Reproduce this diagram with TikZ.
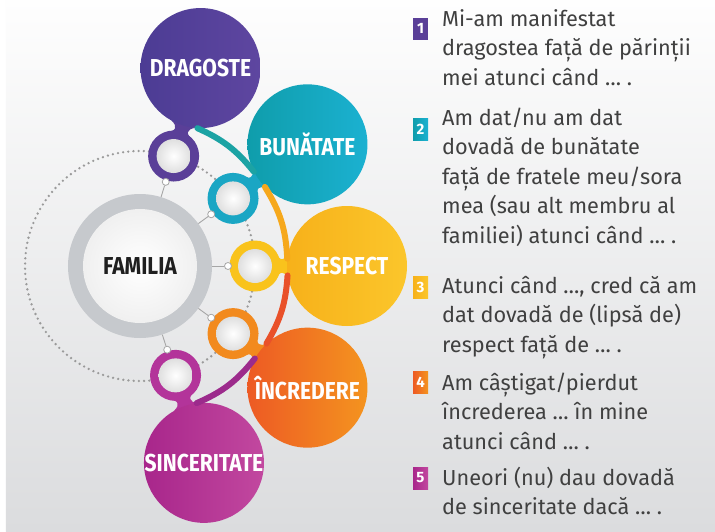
\documentclass[tikz,border=0pt]{standalone}
\usepackage{fontspec}
\setmainfont{Fira Sans}
\newfontfamily\lblfont{Fira Sans}[FakeStretch=0.86]
\usepackage{tikz}
\usetikzlibrary{calc}

\definecolor{bggray}{HTML}{DBDCDE}
\definecolor{txtgray}{HTML}{404040}
\definecolor{dragL}{HTML}{4C3C94}
\definecolor{dragR}{HTML}{5E46A0}
\definecolor{dragRing}{HTML}{5A3F98}
\definecolor{bunL}{HTML}{0F9DAB}
\definecolor{bunR}{HTML}{1BB1D1}
\definecolor{bunRing}{HTML}{1AA6C4}
\definecolor{respL}{HTML}{F7B11A}
\definecolor{respR}{HTML}{FBC62B}
\definecolor{respRing}{HTML}{F9C31C}
\definecolor{incrL}{HTML}{ED5A24}
\definecolor{incrR}{HTML}{F4941F}
\definecolor{incrRing}{HTML}{F28A1E}
\definecolor{sincL}{HTML}{A8268B}
\definecolor{sincR}{HTML}{C2489F}
\definecolor{sincRing}{HTML}{B3349A}
\definecolor{bunArc}{HTML}{1CA3A4}
\definecolor{respArc}{HTML}{F6A81C}
\definecolor{incrArc}{HTML}{E9512A}
\definecolor{sincArc}{HTML}{9C2B8C}
\definecolor{famRing}{HTML}{C6C9CD}
\definecolor{dotgray}{HTML}{9A9A9A}

% list text, baseline on its first line
\newcommand{\itemlines}[1]{\parbox[t]{270pt}{\raggedright #1}}

\tikzset{
  bigdisc/.style={circle, minimum size=120pt, inner sep=0pt, text=white,
    font=\lblfont\bfseries\fontsize{24.5}{24.5}\selectfont},
  smallring/.style={circle, minimum size=51pt, inner sep=0pt},
  innerdisc/.style={circle, minimum size=34pt, inner sep=0pt,
    inner color=white, outer color=gray!25},
  knob/.style={circle, minimum size=7pt, inner sep=0pt, draw=gray!70, fill=white, line width=0.8pt},
  spoke/.style={draw=gray!70, line width=0.9pt},
  arcline/.style={line width=6pt, line cap=round},
  badge/.style={rectangle, minimum width=15pt, minimum height=22pt, inner sep=0pt, text=white,
    font=\bfseries\fontsize{15}{15}\selectfont},
  itemtxt/.style={anchor=base west, inner sep=0pt, text=txtgray,
    font=\fontsize{21.7}{29.6}\selectfont}
}

\begin{document}
\begin{tikzpicture}[x=1pt, y=1pt]
  % background
  \fill[white] (-140,266) rectangle (575,-265);
  \shade[top color=white!97!bggray, bottom color=bggray] (-134,266) rectangle (575,-265);
  \useasboundingbox (-140,266) rectangle (575,-265);

  % dotted orbit
  \draw[dotgray, line width=2.6pt, line cap=round, dash pattern=on 0pt off 5.2pt] (0,0) circle[radius=115];

  % circles, necks and small rings
  \foreach \ang/\name/\lbl in {73/drag/DRAGOSTE, 36/bun/BUNĂTATE, 0/resp/RESPECT,
                               -36/incr/ÎNCREDERE, -72/sinc/SINCERITATE} {
    \begin{scope}[rotate=\ang]
      \fill[\name Ring] (135.5,14.3) .. controls (139.5,4.5) and (144.5,4.5) .. (148.3,12.5)
        -- (148.3,-12.5) .. controls (144.5,-4.5) and (139.5,-4.5) .. (135.5,-14.3) -- cycle;
    \end{scope}
    \node[bigdisc, left color=\name L, right color=\name R] (\name) at (\ang:207) {\lbl};
    \node[smallring, fill=\name Ring] (s\name) at (\ang:115) {};
    \node[innerdisc] at (s\name) {};
  }

  % centre
  \node[circle, minimum size=144pt, inner sep=0pt, fill=famRing] (fam) at (0,0) {};
  \node[circle, minimum size=114pt, inner sep=0pt, inner color=white, outer color=gray!12,
        text=black!88, font=\lblfont\bfseries\fontsize{24.5}{24.5}\selectfont] at (fam) {FAMILIA};

  % spokes
  \foreach \ang/\name in {73/drag, 36/bun, 0/resp, -36/incr, -72/sinc} {
    \node[knob] (k\name) at (\ang:88) {};
    \draw[spoke] (fam.\ang) -- (k\name);
  }

  % arcs between circles
  \draw[arcline, bunArc] (drag.-93) to[bend left=13.5] (bun.207);
  \draw[arcline, respArc] (bun.225) to[bend left=14.5] (resp.173);
  \draw[arcline, incrArc] (resp.189) to[bend left=13.5] (incr.133);
  \draw[arcline, sincArc] (incr.151) to[bend left=14] (sinc.97);

  % list
  \node[badge, fill=dragRing] (n1) at (280.5,237.5) {1};
  \node[badge, left color=bunL, right color=bunR] (n2) at (280.5,136.5) {2};
  \node[badge, left color=respL, right color=respR] (n3) at (280.5,-21.5) {3};
  \node[badge, left color=incrL, right color=incrR] (n4) at (280.5,-116.5) {4};
  \node[badge, left color=sincL, right color=sincR] (n5) at (280.5,-212) {5};

  \node[itemtxt] (t1) at (302,240) {\itemlines{Mi-am manifestat\\dragostea față de părinții\\mei atunci când … .}};
  \node[itemtxt] (t2) at (302,141) {\itemlines{Am dat/nu am dat\\dovadă de bunătate\\față de fratele meu/sora\\mea (sau alt membru al\\familiei) atunci când … .}};
  \node[itemtxt] (t3) at (302,-27) {\itemlines{Atunci când …, cred că am\\dat dovadă de (lipsă de)\\respect față de … .}};
  \node[itemtxt] (t4) at (302,-124) {\itemlines{Am câștigat/pierdut\\încrederea … în mine\\atunci când … .}};
  \node[itemtxt] (t5) at (302,-219) {\itemlines{Uneori (nu) dau dovadă\\de sinceritate dacă … .}};
\end{tikzpicture}
\end{document}
